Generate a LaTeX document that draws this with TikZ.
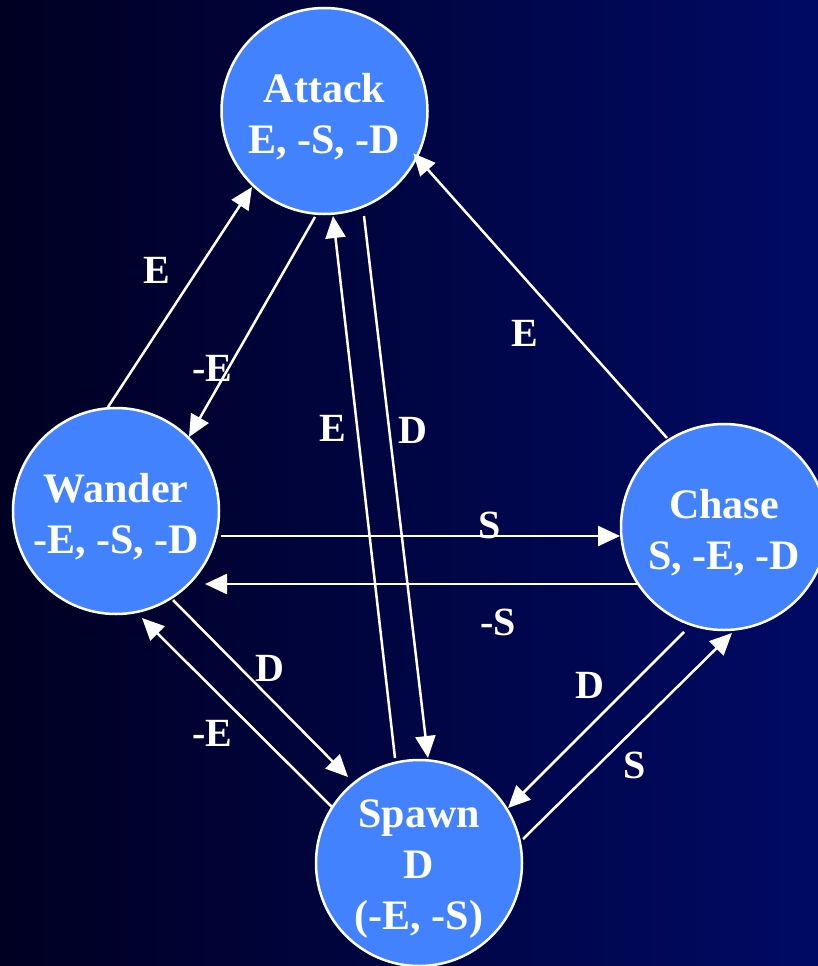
\documentclass[tikz,border=0pt]{standalone}
\usepackage{fontspec}
\setmainfont{Liberation Serif}
\usetikzlibrary{calc,arrows.meta}
\definecolor{bgleft}{RGB}{0,0,34}
\definecolor{bgright}{RGB}{0,10,100}
\definecolor{statefill}{RGB}{66,130,255}
\begin{document}
\begin{tikzpicture}[x=1pt,y=-1pt,
  state/.style={circle, draw=white, line width=2.5pt, fill=statefill,
    minimum size=206pt, inner sep=0pt},
  statetext/.style={text=white, align=center, inner sep=0pt, yshift=-6pt,
    font=\fontsize{42}{51}\selectfont\bfseries},
  lbl/.style={text=white, font=\fontsize{40}{48}\selectfont\bfseries, inner sep=0pt},
  arr/.style={draw=white, line width=2.5pt, -{Triangle[length=22pt,width=20pt]}}]
\useasboundingbox (0,0) rectangle (818,966);
\shade[left color=bgleft, right color=bgright] (0,0) rectangle (818,966);

\node[state, label={[statetext]center:Attack\\E, -S, -D}] (attack) at (324.5,111) {};
\node[state, label={[statetext]center:Wander\\-E, -S, -D}] (wander) at (116,511) {};
\node[state, label={[statetext]center:Chase\\S, -E, -D}] (chase) at (724,527) {};
\node[state, label={[statetext]center:Spawn\\D\\(-E, -S)}] (spawn) at (419,863) {};

\draw[arr] ($(wander)+(-8,-104)$) -- ($(attack)+(-72.5,76)$);
\draw[arr] ($(attack)+(-9.5,106)$) -- ($(wander)+(73,-74)$);
\draw[arr] ($(spawn)+(-24,-105)$) -- ($(attack)+(8.5,105)$);
\draw[arr] ($(attack)+(39.5,105)$) -- ($(spawn)+(9,-105)$);
\draw[arr] ($(chase)+(-57,-89)$) -- ($(attack)+(88.8,42.3)$);
\draw[arr] ($(wander)+(105,25)$) -- ($(chase)+(-104,9)$);
\draw[arr] ($(chase)+(-87,57)$) -- ($(wander)+(89,73)$);
\draw[arr] ($(wander)+(57,89)$) -- ($(spawn)+(-71,-86)$);
\draw[arr] ($(spawn)+(-87,-56)$) -- ($(wander)+(26,107)$);
\draw[arr] ($(chase)+(-40,105)$) -- ($(spawn)+(89,-55)$);
\draw[arr] ($(spawn)+(104,-24)$) -- ($(chase)+(8,106)$);

\node[lbl] (l1) at (157,270) {E};
\node[lbl] (l2) at (212,368) {-E};
\node[lbl] (l3) at (333,428) {E};
\node[lbl] (l4) at (413,430) {D};
\node[lbl] (l5) at (525,333) {E};
\node[lbl] (l6) at (490,525) {S};
\node[lbl] (l7) at (498,622) {-S};
\node[lbl] (l8) at (270,668) {D};
\node[lbl] (l9) at (212,733) {-E};
\node[lbl] (l10) at (590,685) {D};
\node[lbl] (l11) at (635,765) {S};
\end{tikzpicture}
\end{document}
